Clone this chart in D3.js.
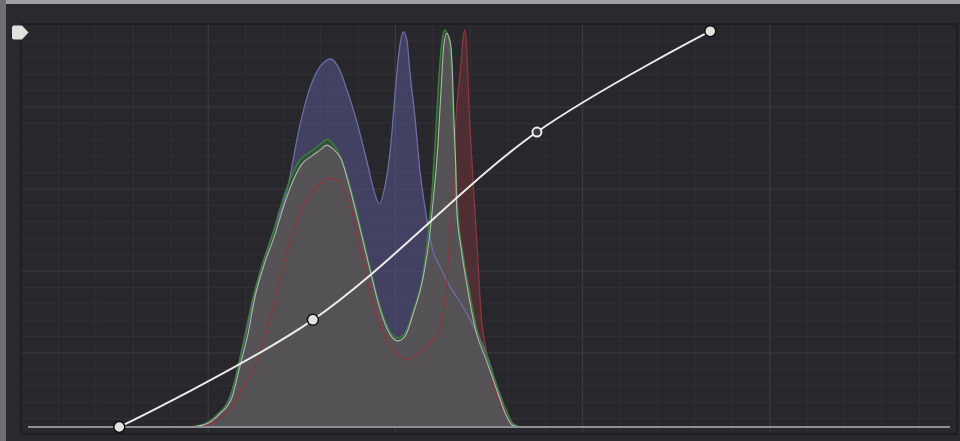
<!DOCTYPE html>
<html>
<head>
<meta charset="utf-8">
<script src="https://cdn.jsdelivr.net/npm/d3@7"></script>
<style>
  body { margin: 0; background: #2b2a2f; }
  svg { display: block; }
</style>
</head>
<body>
<div id="chart"></div>
<script>
// histogram samples: [level %, count %]
const blueHist = [
  [17.6, 0], [19.2, 0.8], [20.6, 3.0], [21.9, 7.6], [22.8, 14.9], [23.6, 23.2], [24.5, 32.0],
  [25.4, 40.6], [26.5, 48.4], [28.1, 59.7], [29.5, 76.1], [30.4, 84.1], [31.3, 89.4], [32.1, 91.9],
  [32.8, 92.7], [33.6, 90.9], [34.6, 84.9], [35.7, 76.6], [36.8, 66.5], [37.6, 58.9], [38.1, 56.2],
  [38.7, 60.5], [39.3, 69.8], [39.8, 83.6], [40.2, 93.7], [40.7, 99.5], [41.1, 97.5], [41.4, 89.9],
  [42.0, 77.3], [42.5, 64.7], [43.1, 54.7], [43.9, 44.6], [44.7, 40.3], [45.8, 35.3], [47.2, 30.2],
  [48.7, 23.7], [49.8, 18.1], [50.9, 9.8], [51.7, 3.8], [52.5, 0.8], [53.4, 0],
];
const greenHist = [
  [17.6, 0], [19.2, 0.8], [20.6, 3.3], [21.9, 7.3], [22.8, 15.4], [23.6, 23.9], [24.4, 32.5],
  [25.4, 40.8], [26.6, 49.1], [27.3, 54.7], [28.4, 62.2], [29.5, 67.3], [30.6, 69.3], [31.5, 70.8],
  [32.1, 72.0], [32.4, 72.5], [33.0, 71.5], [33.8, 68.5], [34.9, 61.0], [36.0, 50.9], [37.1, 40.1],
  [38.2, 30.2], [39.3, 23.9], [40.1, 22.4], [40.9, 23.7], [41.8, 29.5], [42.8, 37.8], [43.4, 48.9],
  [43.8, 58.4], [44.1, 69.0], [44.5, 85.6], [44.9, 97.0], [45.2, 100], [45.6, 98.0], [45.9, 92.4],
  [46.1, 77.3], [46.4, 64.7], [46.6, 54.7], [47.1, 44.6], [47.7, 36.3], [48.7, 24.4], [49.8, 17.4],
  [50.9, 10.1], [52.0, 3.5], [52.6, 0.8], [53.4, 0],
];
const redHist = [
  [17.8, 0], [19.2, 0.4], [20.6, 1.8], [21.9, 4.8], [23.2, 9.6], [24.4, 14.4], [25.2, 19.4],
  [25.9, 24.4], [27.3, 37.0], [28.4, 47.1], [29.8, 55.4], [31.3, 60.5], [32.8, 62.7], [33.6, 62.2],
  [34.6, 57.9], [35.3, 52.9], [35.8, 47.1], [36.6, 39.5], [37.3, 32.0], [38.2, 25.7], [39.6, 19.4],
  [41.1, 16.9], [42.5, 18.9], [43.6, 21.2], [44.7, 24.9], [45.2, 32.0], [45.4, 36.3], [45.8, 49.6],
  [46.1, 62.2], [46.4, 77.3], [46.9, 89.9], [47.2, 98.2], [47.4, 100], [47.6, 95.0], [47.8, 82.4],
  [48.2, 64.7], [48.5, 53.4], [48.8, 42.1], [49.1, 29.5], [49.7, 19.4], [50.5, 10.6], [51.5, 4.3],
  [52.3, 1.3], [53.2, 0],
];
const lumaHist = [
  [17.8, 0], [19.4, 0.8], [20.8, 3.3], [22.1, 7.3], [23.0, 15.4], [23.9, 23.9], [24.6, 32.5],
  [25.6, 40.8], [26.8, 48.6], [27.5, 53.9], [28.6, 61.2], [29.7, 66.2], [30.8, 68.3], [31.7, 69.8],
  [32.4, 71.0], [33.1, 70.0], [34.0, 67.3], [34.9, 60.2], [36.0, 50.1], [37.1, 39.5], [38.2, 29.5],
  [39.3, 23.2], [40.1, 21.7], [40.9, 22.9], [41.8, 28.7], [42.8, 37.0], [43.5, 47.1], [44.0, 58.4],
  [44.4, 69.0], [44.8, 84.9], [45.1, 96.2], [45.4, 99.2], [45.8, 97.0], [46.0, 91.2], [46.2, 77.3],
  [46.4, 64.7], [46.5, 54.7], [47.0, 44.6], [47.6, 35.8], [48.6, 23.9], [49.7, 16.9], [50.8, 9.6],
  [51.8, 3.3], [52.5, 0.5], [53.4, 0],
];

// curve control points: [input %, output %]
const curvePoints = [[9.9, 0], [30.9, 27.0], [55.2, 74.3], [74.0, 99.7]];
const selectedPoint = 2;

const width = 960;
const height = 441;
const plot = { l: 21, t: 24, r: 957, b: 434 };

const x = d3.scaleLinear().domain([0, 100]).range([28, 950]);
const y = d3.scaleLinear().domain([0, 100]).range([427, 30]);

// grid: 5 major x 5 minor divisions
const gx = d3.scaleLinear().domain([0, 25]).range([plot.l, plot.r]);
const gy = d3.scaleLinear().domain([0, 25]).range([25, 435]);

const svg = d3
  .select('#chart')
  .append('svg')
  .attr('width', width)
  .attr('height', height);

svg.append('rect').attr('width', width).attr('height', height).attr('fill', '#2a292e');
svg.append('rect').attr('width', width).attr('height', 4).attr('fill', '#a09fa3');
svg.append('rect').attr('width', 6).attr('height', height).attr('fill', '#6f6e72');

svg
  .append('defs')
  .append('clipPath')
  .attr('id', 'clip')
  .append('rect')
  .attr('x', plot.l)
  .attr('y', plot.t)
  .attr('width', plot.r - plot.l)
  .attr('height', plot.b - plot.t);

svg
  .append('rect')
  .attr('x', plot.l)
  .attr('y', plot.t)
  .attr('width', plot.r - plot.l)
  .attr('height', plot.b - plot.t)
  .attr('fill', '#28272c');

const grid = svg.append('g').attr('clip-path', 'url(#clip)');

grid
  .selectAll('.vline')
  .data(d3.range(1, 25))
  .join('line')
  .attr('x1', (d) => gx(d))
  .attr('x2', (d) => gx(d))
  .attr('y1', plot.t)
  .attr('y2', plot.b)
  .attr('stroke', (d) => (d % 5 === 0 ? '#3b3a3f' : '#312f35'))
  .attr('stroke-width', 1.2);

grid
  .selectAll('.hline')
  .data(d3.range(1, 25))
  .join('line')
  .attr('x1', plot.l)
  .attr('x2', plot.r)
  .attr('y1', (d) => gy(d))
  .attr('y2', (d) => gy(d))
  .attr('stroke', (d) => (d % 5 === 0 ? '#3b3a3f' : '#312f35'))
  .attr('stroke-width', 1.2);

const area = d3
  .area()
  .x((d) => x(d[0]))
  .y0(y(0))
  .y1((d) => y(d[1]))
  .curve(d3.curveMonotoneX);

const line = d3
  .line()
  .x((d) => x(d[0]))
  .y((d) => y(d[1]))
  .curve(d3.curveMonotoneX);

const channels = [
  { data: blueHist, fill: 'rgb(84,84,134)', op: 0.6, stroke: '#6c6ca6', sw: 1.3 },
  { data: redHist, fill: 'rgb(104,50,56)', op: 0.6, stroke: '#87393d', sw: 1.3 },
  { data: greenHist, fill: 'rgb(40,88,46)', op: 0.75, stroke: '#3c7a40', sw: 1.6 },
  { data: lumaHist, fill: 'rgb(88,83,88)', op: 0.93, stroke: '#b3b2ac', sw: 1.1 },
];

const hist = svg.append('g').attr('clip-path', 'url(#clip)');

hist
  .selectAll('.fill')
  .data(channels)
  .join('path')
  .attr('d', (d) => area(d.data))
  .attr('fill', (d) => d.fill)
  .attr('fill-opacity', (d) => d.op);

hist
  .selectAll('.edge')
  .data(channels)
  .join('path')
  .attr('d', (d) => line(d.data))
  .attr('fill', 'none')
  .attr('stroke', (d) => d.stroke)
  .attr('stroke-width', (d) => d.sw);

// plot frame
svg
  .append('rect')
  .attr('x', plot.l)
  .attr('y', plot.t)
  .attr('width', plot.r - plot.l)
  .attr('height', plot.b - plot.t)
  .attr('fill', 'none')
  .attr('stroke', '#1c1b1f')
  .attr('stroke-width', 1.5);

// baseline
svg
  .append('line')
  .attr('x1', x(0))
  .attr('x2', x(100))
  .attr('y1', y(0))
  .attr('y2', y(0))
  .attr('stroke', '#8f8e92')
  .attr('stroke-width', 2);

// the curve
svg
  .append('path')
  .attr('d', d3.line().x((d) => x(d[0])).y((d) => y(d[1])).curve(d3.curveCatmullRom.alpha(0.5))(curvePoints))
  .attr('fill', 'none')
  .attr('stroke', '#ebebeb')
  .attr('stroke-width', 2);

svg
  .selectAll('.pt')
  .data(curvePoints)
  .join('circle')
  .attr('cx', (d) => x(d[0]))
  .attr('cy', (d) => y(d[1]))
  .attr('r', (d, i) => (i === selectedPoint ? 4.5 : 5.5))
  .attr('fill', (d, i) => (i === selectedPoint ? '#3a393e' : '#e4e2de'))
  .attr('stroke', (d, i) => (i === selectedPoint ? '#eeeeee' : '#111013'))
  .attr('stroke-width', (d, i) => (i === selectedPoint ? 2 : 1.5));

// top-left handle
svg
  .append('path')
  .attr('d', 'M12,27.5 Q12,25.5 14,25.5 H22 L28.5,32.5 L22,39.5 H14 Q12,39.5 12,37.5 Z')
  .attr('fill', '#e2e0dc');
</script>
</body>
</html>
